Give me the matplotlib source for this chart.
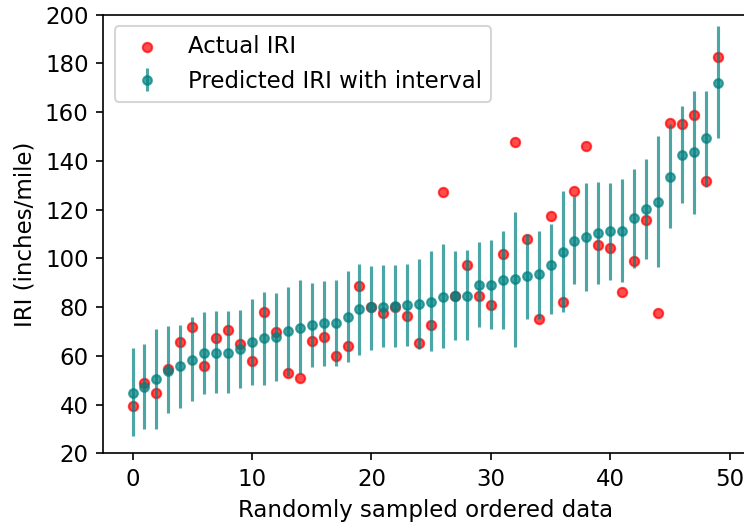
import numpy as np
import matplotlib
matplotlib.use("Agg")
import matplotlib.pyplot as plt

# Data
sample_index = list(range(50))
actual_iri = [39.6, 49.0, 44.6, 54.8, 65.8, 71.7, 55.9, 67.3, 70.6, 64.9,
              57.7, 77.8, 69.8, 52.8, 50.8, 66.0, 67.7, 59.8, 64.2, 88.7,
              80.0, 77.4, 79.9, 76.4, 65.3, 72.7, 127.1, 84.6, 97.4, 84.6,
              80.8, 101.6, 147.6, 107.8, 75.2, 117.3, 82.2, 127.8, 146.0, 105.7,
              104.3, 86.4, 98.8, 115.7, 77.7, 155.5, 155.1, 158.9, 131.6, 182.7]
predicted_iri = [44.6, 47.4, 50.4, 53.9, 55.7, 58.3, 61.1, 61.3, 61.3, 62.7,
                 65.5, 67.3, 67.7, 70.3, 71.4, 72.5, 73.5, 73.5, 76.0, 79.2,
                 80.0, 80.1, 80.6, 80.8, 81.2, 82.2, 84.3, 84.6, 84.6, 89.0,
                 89.0, 91.2, 91.5, 92.9, 93.6, 97.1, 102.7, 107.2, 108.8, 110.3,
                 111.1, 111.4, 116.4, 120.2, 123.0, 133.4, 142.5, 143.5, 149.4, 172.1]
interval_upper = [63.3, 64.9, 71.2, 72.1, 72.8, 75.9, 78.1, 78.5, 78.5, 78.9,
                  83.5, 86.4, 85.7, 88.3, 91.2, 89.8, 90.8, 91.2, 94.7, 97.7,
                  97.0, 97.4, 97.4, 97.7, 99.9, 103.0, 106.0, 103.0, 103.5, 106.7,
                  107.7, 111.2, 119.1, 110.1, 111.2, 114.3, 127.8, 125.8, 130.9, 131.3,
                  130.9, 132.7, 136.8, 141.0, 150.2, 155.2, 162.7, 168.9, 168.6, 195.2]
interval_lower = [26.9, 30.1, 30.1, 36.6, 38.5, 41.4, 44.2, 44.7, 44.9, 46.7,
                  47.9, 47.9, 49.7, 51.9, 52.4, 55.3, 55.8, 55.9, 57.6, 60.5,
                  62.6, 63.6, 63.6, 64.2, 62.9, 61.8, 63.4, 66.3, 66.3, 71.8,
                  70.9, 71.2, 63.6, 75.3, 75.3, 77.0, 78.1, 89.4, 86.8, 89.4,
                  91.2, 90.5, 96.0, 99.8, 96.3, 112.6, 122.7, 118.2, 129.5, 149.5]

plt.rcParams["font.size"] = 11

x = np.array(sample_index)
pred = np.array(predicted_iri)
yerr = np.vstack([pred - np.array(interval_lower), np.array(interval_upper) - pred])

fig = plt.figure(figsize=(744 / 150, 529 / 150), dpi=150)
ax = fig.add_axes([0.1388, 0.1431, 0.8653, 0.829])

ax.scatter(x, actual_iri, color="red", alpha=0.7, s=20, label="Actual IRI")
ax.errorbar(x, pred, yerr=yerr, fmt="o", color="teal", alpha=0.7,
            markersize=4.2, elinewidth=1.5, label="Predicted IRI with interval")

ax.set_ylim(20, 200)
ax.set_xlabel("Randomly sampled ordered data")
ax.set_ylabel("IRI (inches/mile)")
ax.legend(loc="upper left")

fig.savefig("out.png", dpi=150)
